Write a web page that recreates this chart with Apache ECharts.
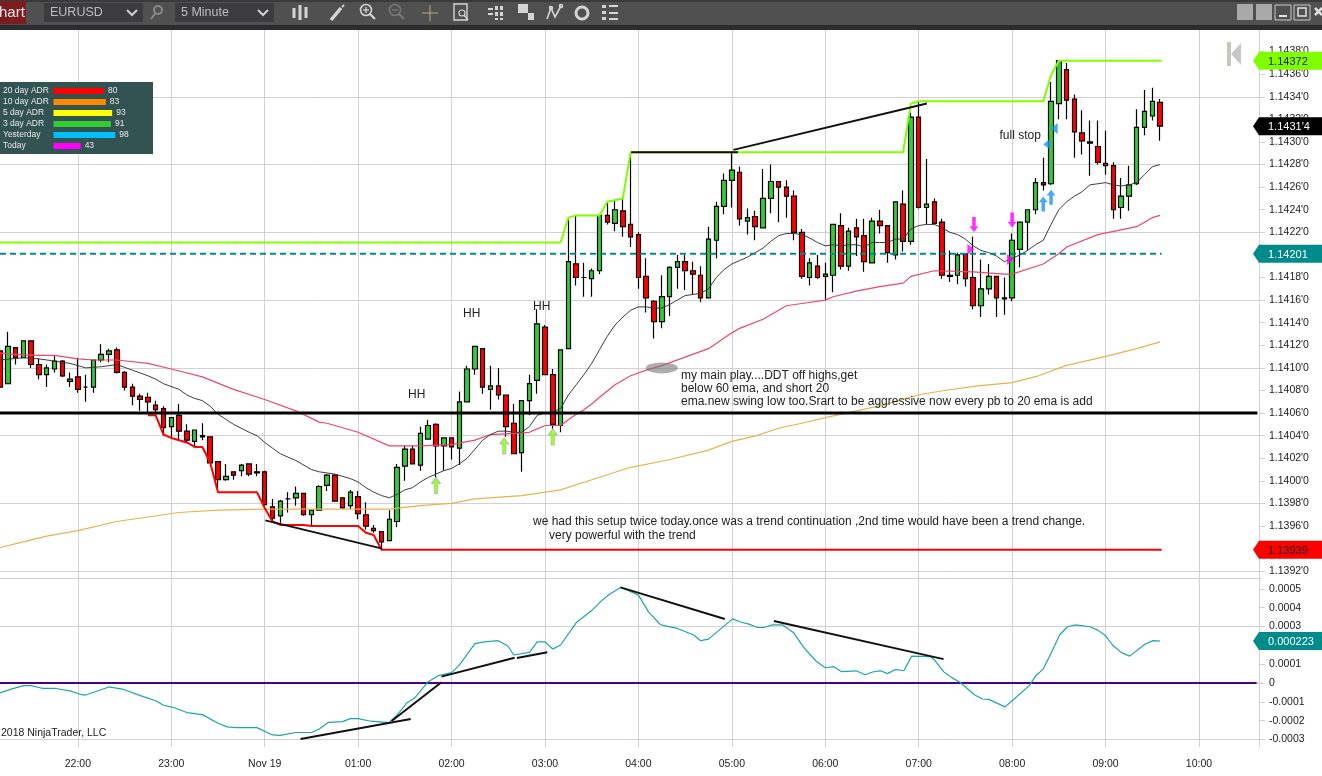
<!DOCTYPE html>
<html><head><meta charset="utf-8">
<script src="https://cdn.jsdelivr.net/npm/echarts@6/dist/echarts.min.js"></script>
<style>html,body{margin:0;padding:0;background:#fff}#c{width:1322px;height:776px}</style>
</head><body><div id="c"></div>
<script>
// --- axis labels ---
const hourLabels = ['22:00','23:00','Nov 19','01:00','02:00','03:00','04:00','05:00','06:00','07:00','08:00','09:00','10:00'];
const priceTicks = [1.1392,1.1394,1.1396,1.1398,1.1400,1.1402,1.1404,1.1406,1.1408,1.1410,1.1412,1.1414,1.1416,1.1418,1.1420,1.1422,1.1424,1.1426,1.1428,1.1430,1.1432,1.1434,1.1436,1.1438];
const priceGrid = [1.13914,1.1392,1.1398,1.1404,1.1410,1.1416,1.1422,1.1428,1.1434,1.1440];
const oscTicks = [0.0005,0.0004,0.0003,0.0001,0,-0.0001,-0.0002,-0.0003];
const oscGrid = [-0.0003,0,0.0003,0.000558];
// --- candles: open, close, low, high (5 minute bars from 21:10) ---
const candles = [
[1.14115,1.14083,1.14082,1.14118],[1.14086,1.14119,1.14086,1.14132],[1.14118,1.14109,1.14103,1.14118],[1.14109,1.14124,1.14109,1.14124],[1.14124,1.14103,1.14100,1.14124],
[1.14103,1.14094,1.14090,1.14108],[1.14094,1.14100,1.14083,1.14103],[1.14099,1.14106,1.14096,1.14111],[1.14106,1.14093,1.14092,1.14107],[1.14088,1.14090,1.14083,1.14096],
[1.14092,1.14081,1.14078,1.14109],[1.14083,1.14083,1.14070,1.14094],[1.14083,1.14107,1.14078,1.14107],[1.14107,1.14112,1.14105,1.14121],[1.14112,1.14115,1.14105,1.14117],
[1.14116,1.14096,1.14095,1.14118],[1.14096,1.14083,1.14080,1.14097],[1.14083,1.14075,1.14067,1.14086],[1.14075,1.14072,1.14062,1.14077],[1.14074,1.14070,1.14061,1.14078],
[1.14067,1.14063,1.14061,1.14071],[1.14064,1.14047,1.14040,1.14066],[1.14048,1.14056,1.14039,1.14056],[1.14058,1.14044,1.14036,1.14068],[1.14044,1.14036,1.14034,1.14050],
[1.14035,1.14045,1.14030,1.14045],[1.14040,1.14039,1.14036,1.14051],[1.14039,1.14016,1.14016,1.14039],[1.14017,1.14001,1.13993,1.14017],[1.14001,1.14004,1.14000,1.14015],
[1.14008,1.14005,1.14001,1.14008],[1.14009,1.14014,1.14004,1.14015],[1.14015,1.14006,1.14004,1.14015],[1.14008,1.14007,1.14004,1.14015],[1.14008,1.13979,1.13978,1.14009],
[1.13977,1.13967,1.13963,1.13984],[1.13969,1.13982,1.13963,1.13983],[1.13984,1.13984,1.13972,1.13990],[1.13985,1.13989,1.13978,1.13995],[1.13989,1.13970,1.13969,1.13989],
[1.13970,1.13974,1.13960,1.13974],[1.13974,1.13995,1.13974,1.13996],[1.13996,1.14005,1.13991,1.14006],[1.14005,1.13982,1.13982,1.14006],[1.13985,1.13976,1.13975,1.13985],
[1.13978,1.13990,1.13975,1.13992],[1.13986,1.13971,1.13966,1.13991],[1.13970,1.13960,1.13957,1.13981],[1.13958,1.13956,1.13954,1.13961],[1.13955,1.13946,1.13941,1.13955],
[1.13947,1.13966,1.13947,1.13974],[1.13964,1.14012,1.13959,1.14015],[1.14013,1.14028,1.14000,1.14031],[1.14028,1.14015,1.14015,1.14031],[1.14014,1.14042,1.14009,1.14048],
[1.14037,1.14049,1.14037,1.14054],[1.14050,1.14031,1.14003,1.14051],[1.14031,1.14038,1.14009,1.14038],[1.14038,1.14030,1.14019,1.14038],[1.14029,1.14070,1.14014,1.14079],
[1.14070,1.14099,1.14070,1.14102],[1.14099,1.14119,1.14094,1.14119],[1.14117,1.14083,1.14077,1.14117],[1.14081,1.14084,1.14063,1.14102],[1.14084,1.14076,1.14072,1.14100],
[1.14076,1.14048,1.14039,1.14076],[1.14051,1.14024,1.14024,1.14068],[1.14025,1.14071,1.14008,1.14071],[1.14071,1.14086,1.14058,1.14094],[1.14089,1.14139,1.14077,1.14152],
[1.14136,1.14094,1.14094,1.14138],[1.14094,1.14050,1.14046,1.14099],[1.14049,1.14116,1.14043,1.14116],[1.14117,1.14194,1.14117,1.14233],[1.14192,1.14180,1.14173,1.14235],
[1.14180,1.14180,1.14163,1.14193],[1.14179,1.14186,1.14163,1.14188],[1.14186,1.14235,1.14183,1.14235],[1.14235,1.14229,1.14227,1.14246],[1.14228,1.14240,1.14221,1.14248],
[1.14239,1.14225,1.14216,1.14250],[1.14227,1.14216,1.14207,1.14290],[1.14218,1.14180,1.14170,1.14220],[1.14181,1.14162,1.14149,1.14197],[1.14159,1.14141,1.14126,1.14160],
[1.14141,1.14163,1.14135,1.14182],[1.14163,1.14189,1.14146,1.14190],[1.14189,1.14194,1.14170,1.14200],[1.14194,1.14186,1.14169,1.14200],[1.14186,1.14183,1.14165,1.14194],
[1.14182,1.14162,1.14158,1.14190],[1.14162,1.14214,1.14162,1.14225],[1.14213,1.14243,1.14197,1.14247],[1.14243,1.14266,1.14236,1.14272],[1.14266,1.14275,1.14242,1.14290],
[1.14273,1.14232,1.14226,1.14278],[1.14230,1.14233,1.14218,1.14241],[1.14234,1.14225,1.14213,1.14239],[1.14224,1.14250,1.14224,1.14276],[1.14250,1.14265,1.14237,1.14280],
[1.14265,1.14260,1.14229,1.14265],[1.14260,1.14252,1.14233,1.14266],[1.14252,1.14220,1.14213,1.14257],[1.14220,1.14181,1.14179,1.14223],[1.14180,1.14193,1.14173,1.14197],
[1.14190,1.14180,1.14179,1.14200],[1.14181,1.14183,1.14160,1.14193],[1.14182,1.14227,1.14167,1.14227],[1.14226,1.14190,1.14187,1.14237],[1.14190,1.14221,1.14186,1.14224],
[1.14224,1.14216,1.14199,1.14232],[1.14217,1.14194,1.14185,1.14232],[1.14193,1.14230,1.14193,1.14233],[1.14230,1.14226,1.14219,1.14240],[1.14226,1.14202,1.14193,1.14226],
[1.14200,1.14247,1.14196,1.14247],[1.14245,1.14212,1.14203,1.14257],[1.14212,1.14322,1.14209,1.14326],[1.14322,1.14242,1.14241,1.14336],[1.14242,1.14245,1.14227,1.14285],
[1.14247,1.14228,1.14227,1.14250],[1.14229,1.14182,1.14179,1.14232],[1.14182,1.14181,1.14176,1.14204],[1.14182,1.14200,1.14174,1.14202],[1.14201,1.14179,1.14172,1.14201],
[1.14180,1.14155,1.14152,1.14216],[1.14155,1.14170,1.14145,1.14196],[1.14170,1.14181,1.14165,1.14192],[1.14181,1.14162,1.14145,1.14181],[1.14162,1.14161,1.14147,1.14180],
[1.14162,1.14213,1.14159,1.14219],[1.14205,1.14229,1.14189,1.14229],[1.14229,1.14240,1.14204,1.14240],[1.14240,1.14264,1.14236,1.14268],[1.14264,1.14262,1.14257,1.14286],
[1.14263,1.14336,1.14262,1.14353],[1.14334,1.14372,1.14320,1.14372],[1.14364,1.14337,1.14320,1.14370],[1.14338,1.14309,1.14286,1.14342],[1.14308,1.14301,1.14289,1.14328],
[1.14300,1.14299,1.14270,1.14319],[1.14296,1.14282,1.14280,1.14319],[1.14281,1.14279,1.14271,1.14310],[1.14279,1.14240,1.14232,1.14282],[1.14242,1.14252,1.14232,1.14268],
[1.14252,1.14262,1.14239,1.14279],[1.14263,1.14313,1.14262,1.14329],[1.14313,1.14327,1.14306,1.14346],[1.14323,1.14336,1.14319,1.14348],[1.14335,1.14314,1.14301,1.14338]
];
// --- moving averages: [bar index, price] as read ---
const ema20 = [[0,1.14107],[3,1.14109],[5,1.14108],[7,1.14106],[9,1.14104],[11,1.1410],[13,1.14101],[15,1.14103],[17,1.14098],[19,1.14093],[20,1.1409],[21,1.14086],[23,1.14081],[24,1.14076],[25,1.14073],[26,1.14071],[27,1.14066],[28,1.14059],[30,1.1405],[32,1.14043],[33,1.1404],[34,1.14034],[35,1.14029],[36,1.14024],[38,1.14018],[40,1.1401],[41,1.14008],[42,1.14007],[43,1.14006],[44,1.14004],[45,1.14002],[46,1.13999],[47,1.13994],[48,1.1399],[49,1.13987],[50,1.13985],[51,1.13988],[52,1.13992],[53,1.13994],[54,1.13999],[55,1.14003],[56,1.14006],[57,1.14009],[58,1.14011],[59,1.14015],[60,1.1402],[61,1.14028],[62,1.14036],[63,1.14041],[64,1.14044],[65,1.14044],[66,1.14043],[67,1.14043],[68,1.14048],[69,1.14058],[70,1.1406],[71,1.14061],[72,1.14064],[73,1.14076],[74,1.14085],[75,1.14094],[76,1.14104],[77,1.14116],[78,1.14128],[79,1.14138],[80,1.14145],[81,1.14151],[82,1.14154],[83,1.14154],[84,1.14153],[85,1.14153],[86,1.14156],[87,1.1416],[88,1.14164],[89,1.14165],[90,1.14166],[91,1.1417],[92,1.1418],[93,1.14187],[94,1.14192],[95,1.14195],[96,1.14198],[97,1.14202],[98,1.14206],[99,1.14212],[100,1.14217],[101,1.14219],[102,1.14219],[103,1.14218],[104,1.14215],[105,1.14211],[106,1.14208],[107,1.14209],[108,1.14208],[109,1.14209],[110,1.14209],[111,1.14207],[112,1.14211],[113,1.14211],[114,1.14211],[115,1.14214],[116,1.14214],[117,1.14223],[118,1.14226],[119,1.14227],[120,1.14227],[121,1.14224],[122,1.1422],[123,1.14218],[124,1.14214],[125,1.14208],[126,1.14204],[127,1.14202],[128,1.14199],[129,1.14194],[130,1.14197],[131,1.142],[132,1.14204],[133,1.14209],[134,1.14213],[135,1.14227],[136,1.1424],[137,1.14247],[138,1.14252],[139,1.14256],[140,1.14262],[141,1.14263],[142,1.14264],[143,1.14262],[144,1.14261],[145,1.14262],[146,1.14264],[147,1.14271],[148,1.14278],[149,1.1428]];
const ema60 = [[0,1.14113],[2,1.14112],[5,1.14111],[7,1.14111],[10,1.14108],[12,1.14107],[15,1.14107],[19,1.14104],[22,1.14099],[26,1.14092],[30,1.14081],[34,1.14072],[38,1.14062],[41,1.14052],[42,1.14051],[46,1.14043],[50,1.14031],[54,1.14031],[58,1.14032],[61,1.14036],[63,1.14041],[66,1.14042],[68,1.14043],[69,1.14046],[70,1.14049],[72,1.14049],[73,1.14054],[74,1.14059],[75,1.14063],[76,1.14068],[77,1.14074],[79,1.14085],[81,1.14093],[83,1.14098],[85,1.14102],[91,1.14117],[94,1.14131],[95,1.14135],[98,1.14143],[101,1.14155],[103,1.14157],[106,1.1416],[107,1.14163],[110,1.14168],[113,1.14172],[116,1.14175],[117,1.14181],[120,1.14186],[125,1.14185],[129,1.14183],[130,1.14183],[134,1.14192],[136,1.14201],[137,1.14207],[141,1.14218],[146,1.14225],[148,1.14233],[149,1.14235]];
const ema200 = [[0,1.13941],[3,1.13946],[6,1.13951],[10,1.13956],[15,1.13964],[19,1.13968],[23,1.13972],[28,1.13974],[34,1.13975],[42,1.13975],[50,1.13975],[54,1.13978],[58,1.1398],[61,1.13984],[67,1.13987],[72,1.13992],[76,1.14001],[81,1.14012],[85.5,1.14018],[90.9,1.14027],[94,1.14035],[97.2,1.1404],[100.2,1.14047],[103,1.14051],[106,1.14056],[110,1.14062],[113.4,1.14067],[117.9,1.14076],[121.3,1.14080],[125.6,1.14084],[130,1.14087],[133.4,1.14093],[136.9,1.14102],[141.9,1.1411],[146,1.14117],[149,1.14123]];
// --- stepped high / low lines, levels ---
const highLine = [[0,1.14211],[72,1.14211],[73,1.14233],[74,1.14235],[77,1.14235],[78,1.14247],[80,1.1425],[81,1.14291],[116,1.14291],[117,1.14334],[118,1.14336],[134,1.14336],[135,1.14359],[136,1.14372],[149.2,1.14372]];
const lowLine = [[19,1.14058],[20,1.14058],[21,1.14041],[22,1.14038],[24,1.14034],[25,1.1403],[26,1.1403],[27,1.14016],[28,1.1399],[33,1.1399],[34,1.13976],[35,1.13964],[36,1.13961],[39,1.13961],[40,1.1396],[46,1.1396],[47,1.13954],[48,1.13952],[49,1.13939],[149.2,1.13939]];
const midLevel = 1.14201, supportLevel = 1.1406, lastPrice = 1.14314, highPrice = 1.14372, lowPrice = 1.13939;
const lastOsc = 0.000223;
// --- trend lines: [bar, price, bar, price] ---
const priceTrends = [[81.07,1.14291,94.8,1.14291],[94.2,1.14293,119.05,1.14334],[34.08,1.13965,49.1,1.1394]];
const oscTrends = [[38.6,-0.000297,52.75,-0.000191],[50.3,-0.000202,56.7,0.000004],[56.7,0.000034,66.1,0.000134],[66.4,0.000133,70.3,0.000164],[79.7,0.000508,93.1,0.00034],[99.4,0.000329,121.2,0.000127]];
// --- oscillator: [bar, value] ---
const osc = [[0,-0.53],[1.35,-0.34],[3,-0.14],[4,-0.14],[5.4,-0.28],[7,-0.28],[9,-0.42],[10.3,-0.6],[11,-0.64],[14,-0.21],[15.7,-0.32],[18.4,-0.72],[20,-0.94],[21,-1.18],[22.2,-1.29],[24,-1.57],[26,-1.68],[28,-2.14],[29.2,-2.33],[30.3,-2.37],[33,-2.37],[35,-2.76],[36,-2.78],[38,-2.63],[40,-2.63],[41,-2.44],[42.2,-2.09],[44,-2.05],[45,-1.89],[46,-1.89],[47.6,-2.03],[50,-2.1],[51,-1.7],[52.2,-1.08],[53.3,-0.78],[55,0.07],[56.3,0.39],[58,0.55],[59,0.95],[61,2.09],[62.2,2.19],[64,2.25],[65.2,1.98],[66,1.49],[68,1.63],[69,2.19],[70,2.19],[71,1.8],[72,2.02],[73.3,2.78],[74,3.2],[76,3.85],[77.2,4.35],[78.3,4.72],[79.7,5.08],[80.6,4.93],[82,4.67],[83.3,3.78],[84.8,3.11],[85.6,3.02],[87,2.9],[89.1,2.55],[90,2.25],[91,2.33],[94.1,3.41],[95.1,3.24],[96.2,3.13],[97.3,2.95],[98.1,2.95],[99.2,3.09],[100.5,3.09],[101.9,2.69],[103.2,1.91],[104.8,1.17],[106,0.81],[107.1,0.87],[108.1,0.6],[110,0.65],[111.1,0.44],[112.2,0.6],[113.1,0.65],[114,0.5],[115,0.72],[116.1,0.65],[117.1,1.43],[119.5,1.4],[120,1.24],[121.2,0.6],[122.2,0.3],[123.3,0.04],[125.2,-0.64],[126.2,-0.85],[127,-0.87],[129.1,-1.27],[130,-0.94],[132.2,-0.14],[133,0.37],[134,0.74],[135.2,1.75],[136.1,2.55],[137.1,2.99],[138.2,3.09],[140,2.99],[141,2.81],[142,2.51],[142.9,2.02],[144,1.63],[145.1,1.43],[147.1,2.07],[148.1,2.25],[149,2.23]];
// --- signal markers: [bar, price] ---
const greenArrows = [[56,1.13996],[64.76,1.14031],[71,1.14039]];
const magentaArrows = [[125.1,1.14227],[130,1.14231]];
const blueArrows = [[134,1.14245],[135,1.14251]];
const magentaFlags = [[124.7,1.14205],[129.8,1.14196]];
const blueFlags = [[134.45,1.14298],[135.4,1.14312]];
const playMark = [[85,1.141]];
// --- ADR panel ---
const adrNames = ['20 day ADR','10 day ADR','5 day ADR','3 day ADR','Yesterday','Today'];
const adrValues = [80,83,93,91,98,43];
const adrColors = ['#ff0000','#ff8c00','#ffff00','#32cd32','#00bfff','#ff00ff'];

const FONT = '"Liberation Sans", Arial, sans-serif';
const lastBar = 162;
const categories = [];
for (let i = 0; i <= lastBar; i++) {
  const m = (21*60 + 10 + i*5) % 1440;
  categories.push(String(Math.floor(m/60)).padStart(2,'0') + ':' + String(m%60).padStart(2,'0'));
}
const isHour = i => (i - 10) % 12 === 0 && i >= 10;
const GRID = '#d2d2d2';
const up = 'path://M5 0L10 6L7 6L7 16L3 16L3 6L0 6Z';
const down = 'path://M3 0L7 0L7 10L10 10L5 16L0 10L3 10Z';
const right = 'path://M0 0L8 6L0 12Z';
const left = 'path://M8 0L0 6L8 12Z';

function pLine(name, data, color, width, extra) {
  return Object.assign({name, type:'line', xAxisIndex:2, yAxisIndex:0, data, symbol:'none', silent:true, z:6,
    lineStyle:{color, width, cap:'butt'}, clip:true}, extra||{});
}
function mark(data, symbol, size, color, border) {
  return {type:'scatter', xAxisIndex:2, yAxisIndex:0, data, symbol, symbolSize:size, z:8, silent:true,
    itemStyle:{color, borderColor:border||color, borderWidth:border?1:0}};
}
const series = [
  {type:'candlestick', xAxisIndex:0, yAxisIndex:0, data:candles, barWidth:5, z:3, silent:true,
   itemStyle:{color:'#32cd32', color0:'#ff0000', borderColor:'#000', borderColor0:'#000', borderColorDoji:'#000', borderWidth:1.2}},
  pLine('ema200', ema200, '#e6b34f', 1.2),
  pLine('ema60', ema60, '#e84a6a', 1.2),
  pLine('ema20', ema20, '#3c3c3c', 1),
  pLine('high', highLine, '#7fff00', 2),
  pLine('low', lowLine, '#ff0000', 2),
  pLine('mid', [[0,midLevel],[149.2,midLevel]], '#008b8b', 2, {lineStyle:{color:'#008b8b',width:2,type:[6,4]}}),
  pLine('support', [[0,supportLevel],[161.5,supportLevel]], '#000', 3),
  ...priceTrends.map(t => pLine('trend', [[t[0],t[1]],[t[2],t[3]]], '#111', 2, {z:7})),
  mark(playMark, 'circle', [32,11], 'rgba(120,120,120,0.75)'),
  mark(greenArrows, up, [9,16], '#7fff00', '#b0b0b0'),
  mark(magentaArrows, down, [9,15], '#ff00ff'),
  mark(blueArrows, up, [9,15], '#1e90ff'),
  mark(magentaFlags, right, [7,11], '#ff00ff'),
  mark(blueFlags, left, [7,11], '#1e90ff'),
  {type:'line', xAxisIndex:3, yAxisIndex:2, data:[[0,0],[161.4,0]], symbol:'none', silent:true, z:5, lineStyle:{color:'#4b0082',width:2}},
  {type:'line', xAxisIndex:3, yAxisIndex:2, data:osc.map(p=>[p[0],p[1]/10000]), symbol:'none', silent:true, z:6, lineStyle:{color:'#20a5a5',width:1.2}},
  ...oscTrends.map(t => ({type:'line', xAxisIndex:3, yAxisIndex:2, data:[[t[0],t[1]],[t[2],t[3]]], symbol:'none', silent:true, z:7, lineStyle:{color:'#111',width:2}})),
  {type:'bar', xAxisIndex:4, yAxisIndex:4, data:adrValues.map((v,i)=>({value:v,itemStyle:{color:adrColors[i]}})), barWidth:6, z:4, silent:true,
   label:{show:true, position:'right', distance:4, color:'#e8e8e8', fontSize:8.5, fontFamily:FONT}}
];
const option = {
  animation:false,
  backgroundColor:'#fff',
  grid:[
    {left:-0.4, top:29, width:lastBar*7.788, height:549, containLabel:false},
    {left:-0.4, top:578, width:lastBar*7.788, height:169, containLabel:false},
    {left:51.6, top:85.5, width:65, height:66, containLabel:false}
  ],
  xAxis:[
    {type:'category', gridIndex:0, data:categories, boundaryGap:false, axisLine:{show:false}, axisTick:{show:false}, axisLabel:{show:false},
     splitLine:{show:true, interval:(i)=>isHour(i), lineStyle:{color:GRID,width:1}}},
    {type:'category', gridIndex:1, data:categories, boundaryGap:false, axisLine:{show:true, lineStyle:{color:GRID,width:1.5}},
     axisTick:{show:true, interval:(i)=>isHour(i), length:5, lineStyle:{color:GRID}},
     axisLabel:{show:true, interval:(i)=>isHour(i), formatter:(v,i)=>hourLabels[(i-10)/12], color:'#222', fontSize:10.5, fontFamily:FONT, margin:12, hideOverlap:false},
     splitLine:{show:true, interval:(i)=>isHour(i), lineStyle:{color:GRID,width:1}}},
    {type:'value', gridIndex:0, min:0, max:lastBar, show:false},
    {type:'value', gridIndex:1, min:0, max:lastBar, show:false},
    {type:'value', gridIndex:2, min:0, max:100, show:false}
  ],
  yAxis:[
    {type:'value', gridIndex:0, position:'right', offset:-2.3, min:1.13914, max:1.1440, scale:true,
     axisLine:{show:true, onZero:false, lineStyle:{color:GRID,width:1}},
     axisTick:{show:true, length:6, lineStyle:{color:GRID}, customValues:priceTicks},
     axisLabel:{show:true, customValues:priceTicks, formatter:v=>v.toFixed(4)+"'0", color:'#222', fontSize:10.5, fontFamily:FONT, margin:10, padding:[4,0,0,0]},
     splitLine:{show:false}},
    {type:'value', gridIndex:0, position:'left', min:1.13914, max:1.1440, scale:true,
     axisLine:{show:false}, axisLabel:{show:false}, axisTick:{show:false, customValues:priceGrid},
     splitLine:{show:true, lineStyle:{color:GRID,width:1}}},
    {type:'value', gridIndex:1, position:'right', offset:-2.3, min:-0.00034, max:0.000558, scale:true,
     axisLine:{show:true, onZero:false, lineStyle:{color:GRID,width:1}},
     axisTick:{show:true, length:6, lineStyle:{color:GRID}, customValues:oscTicks},
     axisLabel:{show:true, customValues:oscTicks, formatter:v=>v===0?'0':v.toFixed(4), color:'#222', fontSize:10.5, fontFamily:FONT, margin:10, padding:[4,0,0,0]},
     splitLine:{show:false}},
    {type:'value', gridIndex:1, position:'left', min:-0.00034, max:0.000558, scale:true,
     axisLine:{show:false}, axisLabel:{show:false}, axisTick:{show:false, customValues:oscGrid},
     splitLine:{show:true, lineStyle:{color:GRID,width:1}}},
    {type:'category', gridIndex:2, data:adrNames, inverse:true, z:4, axisLine:{show:false}, axisTick:{show:false},
     axisLabel:{show:true, interval:0, hideOverlap:false, align:'left', margin:50.5, color:'#e8e8e8', fontSize:8.5, fontFamily:FONT}, splitLine:{show:false}}
  ],
  series
};
const chart = echarts.init(document.getElementById('c'), null, {renderer:'canvas'});
chart.setOption(option);

// ---- furniture and price tags, placed through the axis scales ----
const T = (text,x,y,size,fill,extra)=>({type:'text', z:60, silent:true, style:Object.assign({text,x,y,fill:fill||'#222',font:(size||12)+'px '+FONT,verticalAlign:'middle'},extra||{})});
const R = (x,y,w,h,fill,z,extra)=>({type:'rect', z:z||50, silent:true, shape:{x,y,width:w,height:h}, style:Object.assign({fill},extra||{})});
const LN = (x1,y1,x2,y2,c,w,z)=>({type:'line', z:z||61, silent:true, shape:{x1,y1,x2,y2}, style:{stroke:c,lineWidth:w||1.5}});
const POLY = (pts,fill,z)=>({type:'polygon', z:z||61, silent:true, shape:{points:pts}, style:{fill}});
const PL = (pts,c,w)=>({type:'polyline', z:61, silent:true, shape:{points:pts}, style:{stroke:c,lineWidth:w||2,fill:null}});
const CIR = (cx,cy,r,c,w)=>({type:'circle', z:61, silent:true, shape:{cx,cy,r}, style:{stroke:c,lineWidth:w||2,fill:null}});
function tag(yAxisIndex, value, text, bg, fg) {
  const y = chart.convertToPixel({yAxisIndex}, value);
  return [POLY([[1253,y],[1259,y-9],[1322,y-9],[1322,y+9],[1259,y+9]],bg,55), T(text,1268,y+1,11,fg)];
}
const IC='#d4d4d4';
const furniture = [
  R(0,0,1322,25,'#505050',50), R(0,0,1322,2,'#3a3a3a',50), R(0,25,1322,5,'#2c2c2e',50),
  R(0,1,26,23,'#7c1c20',51), T('hart',-1,13,15,'#e6e6e6'),
  R(44,3,99,19,'#3c3c3e',51), T('EURUSD',50,13,12.5,'#bdbdbd'), PL([[127,10],[132,15],[137,10]],'#d0d0d0',2),
  CIR(158,10,4,'#8a8a8a',2), LN(155,14,151,19,'#8a8a8a',2),
  R(175,3,99,19,'#3c3c3e',51), T('5 Minute',181,13,12.5,'#bdbdbd'), PL([[258,10],[263,15],[268,10]],'#d0d0d0',2),
  LN(294,8,294,18,IC,3), LN(300,5,300,20,IC,3), LN(306,7,306,18,IC,3),
  LN(331,20,341,8,IC,3.5), LN(342,7,344,5,IC,2),
  CIR(366,10,5.5,IC,1.6), LN(370,14,375,19,IC,2.2), LN(363,10,369,10,IC,1.3), LN(366,7,366,13,IC,1.3),
  CIR(395,10,5.5,'#777',1.6), LN(399,14,404,19,'#777',2.2), LN(392,10,398,10,'#777',1.3),
  LN(422,13,438,13,'#a89a80',1.2), LN(430,5,430,21,'#a89a80',1.2),
  {type:'rect', z:61, silent:true, shape:{x:454,y:4,width:13,height:16}, style:{stroke:IC,fill:null,lineWidth:1.4}}, CIR(462,13,3,IC,1.2), LN(464,15,468,20,IC,1.5),
  R(488,8,5,2,IC,61), R(488,13,5,2,IC,61), R(495,6,3,4,IC,61), R(500,6,3,4,IC,61), R(495,12,3,4,IC,61), R(500,12,3,4,IC,61), R(495,18,3,2,IC,61), R(500,18,3,2,IC,61),
  R(518,4,10,9,IC,61), R(528,13,6,7,IC,61),
  PL([[547,19],[551,8],[555,17],[561,6]],IC,1.6), CIR(551,8,1.5,IC,1.5), CIR(561,6,1.5,IC,1.5),
  CIR(582,13,6,IC,3),
  R(602,5,4,3,IC,61), R(609,5,9,2,IC,61), R(602,11,4,3,IC,61), R(609,12,9,2,IC,61), R(602,17,4,3,IC,61), R(609,18,9,2,IC,61),
  R(1237,4,16,16,'#a8a8a8',51), R(1256,4,16,16,'#a8a8a8',51),
  {type:'rect', z:51, silent:true, shape:{x:1275,y:5,width:16,height:15}, style:{stroke:'#c8c8c8',fill:null,lineWidth:1}}, LN(1279,16,1287,16,'#e0e0e0',2),
  {type:'rect', z:51, silent:true, shape:{x:1294,y:5,width:16,height:15}, style:{stroke:'#c8c8c8',fill:null,lineWidth:1}},
  {type:'rect', z:51, silent:true, shape:{x:1298,y:8,width:8,height:8}, style:{stroke:'#e0e0e0',fill:null,lineWidth:1.5}},
  LN(1315,8,1322,15,'#e0e0e0',2.5), LN(1322,8,1315,15,'#e0e0e0',2.5),
  R(1227,42,4,24,'#c9c7b4',20), POLY([[1241,43],[1241,65],[1231,54]],'#c8c8c8',20),
  R(0,82,153,72,'#335352',1),
  T('HH',408,394.5,12), T('HH',463,314,12), T('HH',533,306.5,12),
  T('full stop',999.5,136,12),
  T('my main play....DDT off highs,get',681,376,12),
  T('below 60 ema, and short 20',681,389,12),
  T('ema.new swing low too.Srart to be aggressive now every pb to 20 ema is add',681,402,12),
  T('we had this setup twice today.once was a trend continuation ,2nd time would have been a trend change.',533,522,12),
  T('very powerful with the trend',549,536,12),
  T('2018 NinjaTrader, LLC',1,733.5,10.5),
  ...tag(0,highPrice,highPrice.toFixed(5),'#7fff00','#222'),
  ...tag(0,lastPrice,"1.1431'4",'#000','#fff'),
  ...tag(0,midLevel,midLevel.toFixed(5),'#008b8b','#fff'),
  ...tag(0,lowPrice,lowPrice.toFixed(5),'#ff0000','#222'),
  ...tag(2,lastOsc,lastOsc.toFixed(6),'#008b8b','#fff')
];
chart.setOption({graphic:{elements:furniture}});
</script></body></html>
